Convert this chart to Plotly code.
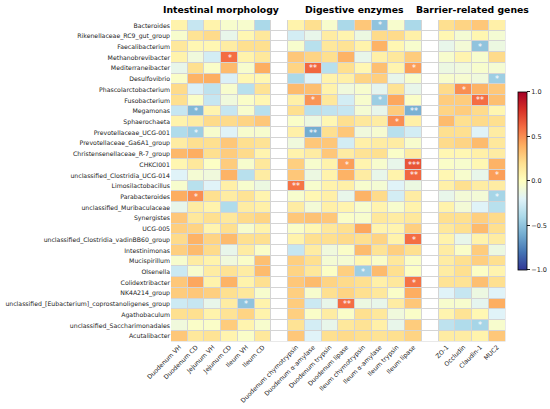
import plotly.graph_objects as go

taxa = ["Bacteroides", "Rikenellaceae_RC9_gut_group", "Faecalibacterium", "Methanobrevibacter",
        "Mediterraneibacter", "Desulfovibrio", "Phascolarctobacterium", "Fusobacterium", "Megamonas",
        "Sphaerochaeta", "Prevotellaceae_UCG-001", "Prevotellaceae_Ga6A1_group",
        "Christensenellaceae_R-7_group", "CHKCI001", "unclassified_Clostridia_UCG-014",
        "Limosilactobacillus", "Parabacteroides", "unclassified_Muribaculaceae", "Synergistes",
        "UCG-005", "unclassified_Clostridia_vadinBB60_group", "Intestinimonas", "Mucispirillum",
        "Olsenella", "Colidextribacter", "NK4A214_group",
        "unclassified_[Eubacterium]_coprostanoligenes_group", "Agathobaculum",
        "unclassified_Saccharimonadales", "Acutalibacter"]

morph_cols = ["Duodenum VH", "Duodenum CD", "Jejunum VH", "Jejunum CD", "Ileum VH", "Ileum CD"]
enzyme_cols = ["Duodenum chymotrypsin", "Duodenum α-amylase", "Duodenum trypsin", "Duodenum lipase",
               "Ileum chymotrypsin", "Ileum α-amylase", "Ileum trypsin", "Ileum lipase"]
barrier_cols = ["ZO-1", "Occludin", "Claudin-1", "MUC2"]

morph_r = [
    [0.08, -0.3, 0.08, -0.05, -0.05, -0.4],
    [-0.05, 0.18, 0.22, -0.15, 0.05, 0.15],
    [0.15, 0.05, 0.05, 0.12, 0.2, 0.2],
    [0.08, -0.1, -0.25, 0.6, 0.08, 0.15],
    [-0.15, 0.2, -0.03, 0.35, -0.05, 0.4],
    [-0.03, 0.38, 0.4, -0.22, 0.05, 0.05],
    [0.22, -0.22, -0.33, -0.05, -0.35, 0.18],
    [0.2, -0.03, -0.3, -0.1, -0.03, 0.05],
    [-0.3, -0.55, 0.07, -0.3, -0.05, -0.35],
    [0.08, 0.12, 0.22, 0.22, 0.25, 0.3],
    [-0.38, -0.45, -0.05, -0.2, -0.05, -0.05],
    [0.12, 0.2, 0.2, 0.3, 0.2, 0.18],
    [0.36, 0.4, 0.2, 0.28, 0.22, 0.07],
    [0.06, 0.15, -0.02, 0.28, -0.05, 0.15],
    [-0.2, -0.07, -0.1, 0.38, -0.35, 0.12],
    [-0.05, -0.35, -0.2, 0.1, -0.05, -0.12],
    [0.4, 0.5, 0.2, 0.12, 0.18, 0.07],
    [-0.15, 0.12, 0.08, -0.38, 0.12, 0.1],
    [0.3, 0.15, 0.2, 0.15, 0.22, 0.25],
    [0.27, 0.25, 0.07, 0.2, -0.05, 0.08],
    [0.22, 0.38, 0.25, 0.35, 0.2, 0.2],
    [0.27, 0.35, 0.22, -0.15, 0.12, -0.03],
    [-0.05, 0.12, 0.08, -0.1, -0.03, 0.33],
    [-0.28, -0.05, 0.12, 0.18, 0.12, 0.35],
    [0.3, 0.42, 0.08, 0.38, 0.08, 0.2],
    [0.28, 0.3, 0.27, 0.2, 0.15, -0.05],
    [-0.27, -0.3, -0.15, 0.12, -0.5, 0.08],
    [0.2, 0.2, 0.08, 0.18, 0.25, 0.08],
    [-0.1, -0.03, -0.03, 0.28, 0.07, -0.05],
    [0.3, 0.15, 0.18, 0.07, -0.03, 0.15],
]

enzyme_r = [
    [0.08, 0.2, -0.05, -0.4, 0.3, -0.5, -0.05, -0.4],
    [-0.25, -0.15, 0.12, 0.07, -0.12, 0.22, 0.22, 0.1],
    [-0.05, -0.35, 0.15, 0.18, 0.08, 0.38, 0.05, -0.05],
    [0.3, 0.25, 0.2, 0.38, -0.15, 0.1, 0.15, 0.28],
    [0.25, 0.62, -0.35, 0.2, 0.05, 0.33, 0.07, 0.45],
    [-0.4, -0.2, 0.08, 0.1, 0.25, 0.27, -0.15, -0.05],
    [0.35, 0.33, 0.08, -0.1, -0.05, -0.17, 0.18, -0.15],
    [0.1, 0.48, 0.15, -0.25, -0.05, -0.45, 0.42, -0.03],
    [0.2, -0.35, -0.32, -0.3, -0.07, -0.15, 0.28, -0.58],
    [-0.03, -0.12, 0.05, 0.2, 0.15, 0.12, 0.5, 0.1],
    [0.1, -0.6, 0.2, 0.3, -0.1, -0.06, -0.35, -0.25],
    [-0.1, 0.3, 0.3, -0.25, 0.1, 0.12, 0.12, -0.05],
    [0.08, 0.12, 0.3, 0.12, 0.18, 0.2, -0.03, 0.12],
    [0.27, -0.05, 0.08, 0.45, 0.07, -0.05, -0.15, 0.68],
    [0.3, -0.12, 0.08, 0.38, 0.12, -0.15, 0.08, 0.62],
    [0.58, -0.05, 0.08, 0.1, -0.05, -0.07, -0.2, -0.12],
    [-0.05, 0.05, 0.1, -0.15, 0.38, 0.22, -0.25, 0.12],
    [0.12, -0.08, 0.1, 0.07, -0.05, 0.07, -0.05, 0.08],
    [0.3, 0.32, 0.3, -0.03, -0.05, 0.15, 0.12, 0.15],
    [-0.03, 0.05, 0.15, 0.2, 0.42, 0.07, 0.07, 0.27],
    [0.08, 0.2, 0.2, 0.22, 0.2, 0.25, 0.08, 0.6],
    [-0.3, 0.12, -0.1, -0.03, 0.35, 0.18, 0.27, 0.2],
    [0.27, 0.2, -0.07, -0.07, 0.05, -0.03, 0.15, -0.03],
    [0.25, 0.15, -0.02, 0.27, -0.45, 0.35, 0.2, -0.02],
    [0.3, 0.35, 0.25, 0.22, 0.2, 0.1, 0.15, 0.58],
    [0.27, -0.05, 0.2, 0.25, 0.2, 0.15, -0.03, 0.4],
    [0.28, -0.28, -0.15, 0.6, -0.12, -0.15, 0.12, 0.3],
    [0.27, -0.03, 0.12, -0.03, 0.2, 0.15, -0.1, -0.03],
    [0.18, -0.25, -0.15, 0.15, 0.18, 0.1, -0.15, 0.28],
    [0.3, -0.2, 0.2, 0.22, 0.2, 0.18, 0.2, 0.25],
]

barrier_r = [
    [0.2, 0.25, 0.3, 0.1],
    [0.05, -0.07, 0.06, -0.07],
    [-0.15, -0.08, -0.5, -0.12],
    [-0.05, 0.07, -0.05, 0.22],
    [-0.12, -0.1, -0.05, -0.07],
    [-0.05, -0.06, -0.1, -0.45],
    [0.22, 0.5, 0.38, 0.3],
    [0.28, 0.28, 0.6, 0.33],
    [0.25, 0.28, 0.22, 0.06],
    [0.35, 0.2, 0.22, 0.2],
    [0.2, 0.2, -0.2, 0.12],
    [0.22, 0.25, 0.35, 0.15],
    [0.05, 0.05, 0.1, 0.12],
    [-0.03, -0.05, 0.05, 0.38],
    [0.05, -0.05, -0.15, 0.45],
    [0.1, 0.2, 0.12, 0.12],
    [-0.15, -0.08, -0.08, -0.42],
    [0.08, -0.08, -0.2, -0.35],
    [0.2, 0.2, 0.27, 0.22],
    [0.15, 0.2, 0.35, 0.2],
    [0.08, -0.15, 0.08, 0.12],
    [0.12, -0.03, 0.28, -0.12],
    [0.12, 0.2, 0.27, 0.2],
    [0.12, 0.2, -0.02, 0.07],
    [0.18, 0.18, 0.33, 0.2],
    [-0.2, -0.3, -0.12, -0.2],
    [-0.05, -0.05, -0.17, 0.4],
    [0.07, 0.18, 0.05, -0.2],
    [-0.33, -0.38, -0.42, -0.05],
    [0.12, 0.12, 0.08, 0.3],
]

# significance marks: (row, column within group, label)
morph_sig = [(3, 3, "*"), (8, 1, "*"), (10, 1, "*"), (16, 1, "*"), (26, 4, "*")]
enzyme_sig = [(0, 5, "*"), (4, 1, "**"), (4, 7, "*"), (7, 1, "*"), (7, 5, "*"), (8, 7, "**"),
              (9, 6, "*"), (10, 1, "**"), (13, 3, "*"), (13, 7, "***"), (14, 7, "**"),
              (15, 0, "**"), (20, 7, "*"), (23, 4, "*"), (24, 7, "*"), (26, 3, "**")]
barrier_sig = [(2, 2, "*"), (5, 3, "*"), (6, 1, "*"), (7, 2, "**"), (14, 3, "*"),
               (16, 3, "*"), (28, 2, "*")]

groups = [("Intestinal morphology", morph_cols, morph_r, morph_sig),
          ("Digestive enzymes", enzyme_cols, enzyme_r, enzyme_sig),
          ("Barrier-related genes", barrier_cols, barrier_r, barrier_sig)]

# one wide matrix with an empty column between groups
nrow = len(taxa)
z = [[] for _ in range(nrow)]
blank = [[] for _ in range(nrow)]
txt = [[] for _ in range(nrow)]
tickvals, ticktext, centers = [], [], []
col = 0
for gi, (title, cols, vals, sig) in enumerate(groups):
    if gi > 0:
        for i in range(nrow):
            z[i].append(None)
            blank[i].append(0)
            txt[i].append("")
        col += 1
    start = col
    marks = {(r, c): s for r, c, s in sig}
    for j, name in enumerate(cols):
        tickvals.append(col)
        ticktext.append(name)
        for i in range(nrow):
            z[i].append(vals[i][j])
            blank[i].append(None)
            txt[i].append(marks.get((i, j), ""))
        col += 1
    centers.append(((start + col - 1) / 2, title))

xs = list(range(col))
ys = list(range(nrow))

fig = go.Figure()
fig.add_trace(go.Heatmap(
    z=z, x=xs, y=ys, text=txt, texttemplate="%{text}",
    textfont=dict(color="white", size=8, family="DejaVu Sans"),
    colorscale="RdYlBu_r", zmin=-1, zmax=1, xgap=1, ygap=1, hoverongaps=False,
    colorbar=dict(x=518 / 550, xanchor="left", xpad=0, y=0.558, yanchor="middle", len=0.436,
                  ypad=0, thickness=9, outlinewidth=0.8, outlinecolor="black",
                  tickvals=[-1, -0.5, 0, 0.5, 1],
                  ticktext=["\u22121.0", "\u22120.5", "0.0", "0.5", "1.0"],
                  ticks="outside", ticklen=3, tickwidth=0.8, tickcolor="#222",
                  tickfont=dict(size=6.5, color="#222", family="DejaVu Sans"))))
# white separator columns
fig.add_trace(go.Heatmap(
    z=blank, x=xs, y=ys, colorscale=[[0, "white"], [1, "white"]], showscale=False,
    xgap=1, ygap=1, hoverinfo="skip", hoverongaps=False))

for cx, title in centers:
    fig.add_annotation(x=cx, y=0.994, xref="x", yref="paper", text="<b>%s</b>" % title,
                       showarrow=False, font=dict(size=9.3, color="black", family="DejaVu Sans"))

fig.update_layout(
    width=550, height=409, margin=dict(l=0, r=0, t=0, b=0),
    paper_bgcolor="white", plot_bgcolor="#d4d4d4",
    font=dict(family="DejaVu Sans", color="#222"),
    xaxis=dict(domain=[171 / 550, 505.5 / 550], range=[-0.5, col - 0.5], tickvals=tickvals,
               ticktext=ticktext, tickangle=-45, tickfont=dict(size=6.2, color="#222"),
               showgrid=False, zeroline=False, ticks="", automargin=False),
    yaxis=dict(domain=[67.5 / 409, 389 / 409], range=[nrow - 0.5, -0.5], tickvals=ys,
               ticktext=taxa, tickfont=dict(size=6.2, color="#222"), showgrid=False,
               zeroline=False, ticks="", automargin=False),
)

# the page body has a default 8px margin; drop it so the figure sits at the window corner
fig.write_html("out.html", config={"displayModeBar": False},
               post_script="document.body.style.margin='0px';")
